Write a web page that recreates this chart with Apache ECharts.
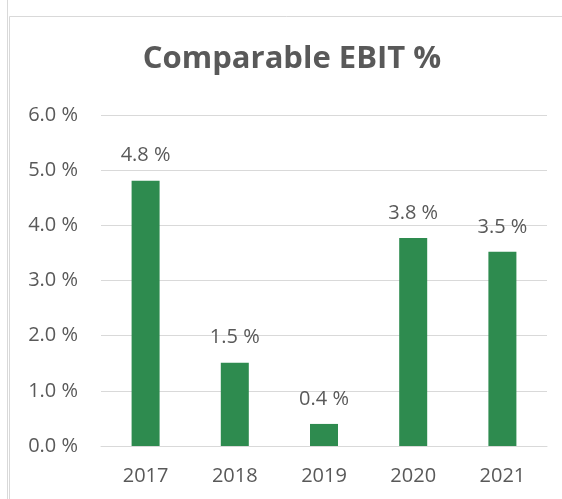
<!DOCTYPE html>
<html>
<head>
<meta charset="utf-8">
<script src="https://cdn.jsdelivr.net/npm/echarts@6/dist/echarts.min.js"></script>
<style>
  html, body { margin: 0; padding: 0; background: #fff; }
  #chart { width: 562px; height: 499px; }
</style>
</head>
<body>
<div id="chart"></div>
<script>
const years = ["2017", "2018", "2019", "2020", "2021"];
const ebitPct = [4.81, 1.51, 0.40, 3.77, 3.52];
const yTicks = [0, 1, 2, 3, 4, 5, 6];

const textColor = "#595959";
const fontFamily = "'Open Sans', 'Noto Sans', sans-serif";

const chart = echarts.init(document.getElementById("chart"));
const option = {
  animation: false,
  backgroundColor: "#ffffff",
  title: {
    text: "Comparable EBIT %",
    left: 287,
    top: 39,
    textAlign: "center",
    textStyle: {
      color: textColor,
      fontFamily: fontFamily,
      fontWeight: "bold",
      fontSize: 31,
    },
  },
  graphic: [
    // sheet line and chart frame
    { type: "line", shape: { x1: 7.5, y1: 0, x2: 7.5, y2: 499 }, style: { stroke: "#d9d9d9", lineWidth: 1 } },
    { type: "rect", shape: { x: 9.5, y: 16.5, width: 600, height: 600 }, style: { fill: "none", stroke: "#d9d9d9", lineWidth: 1 } },
  ],
  grid: {
    left: 101,
    right: 15,
    top: 115,
    bottom: 53,
    containLabel: false,
  },
  xAxis: {
    type: "category",
    data: years,
    axisLine: { show: true, lineStyle: { color: "#d9d9d9", width: 1 } },
    axisTick: { show: false },
    axisLabel: {
      color: textColor,
      fontFamily: fontFamily,
      fontSize: 20,
      margin: 20,
    },
  },
  yAxis: {
    type: "value",
    min: yTicks[0],
    max: yTicks[yTicks.length - 1],
    interval: 1,
    axisLine: { show: false },
    axisTick: { show: false },
    splitLine: { lineStyle: { color: "#d9d9d9", width: 1 } },
    axisLabel: {
      color: textColor,
      fontFamily: fontFamily,
      fontSize: 20,
      margin: 23,
      formatter: (v) => v.toFixed(1) + " %",
    },
  },
  series: [
    {
      type: "bar",
      data: ebitPct,
      barWidth: 28,
      itemStyle: { color: "#2e8b4f" },
      label: {
        show: true,
        position: "top",
        distance: 15,
        color: textColor,
        fontFamily: fontFamily,
        fontSize: 20,
        formatter: (p) => p.value.toFixed(1) + " %",
      },
    },
  ],
};
chart.setOption(option);
</script>
</body>
</html>
